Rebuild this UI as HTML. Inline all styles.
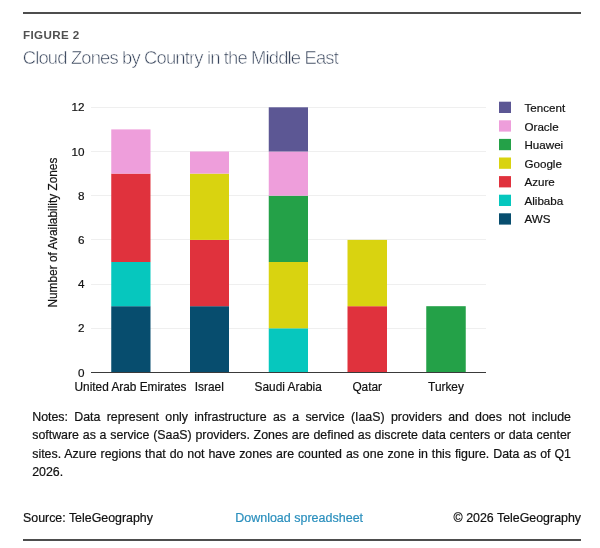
<!DOCTYPE html>
<html><head><meta charset="utf-8">
<style>
html,body{margin:0;padding:0;background:#fff;}
body{width:600px;height:548px;position:relative;overflow:hidden;font-family:"Liberation Sans",sans-serif;color:#111;}
.abs{position:absolute;white-space:nowrap;}
.rule{position:absolute;left:22.5px;width:558.5px;height:2px;background:#4d4d4d;}
#fig{left:22.9px;top:28.9px;font-size:11.6px;font-weight:bold;color:#505050;line-height:12px;letter-spacing:0.42px;}
#title{left:22.8px;top:45.5px;font-size:18.4px;color:#36435a;-webkit-text-stroke:0.55px #fff;line-height:24px;letter-spacing:-0.84px;}
#notes{position:absolute;left:32.2px;top:407.5px;width:538.8px;font-size:12.4px;-webkit-text-stroke:0.2px #111;line-height:18.5px;text-align:justify;color:#111;}
.foot{-webkit-text-stroke:0.2px;font-size:12.4px;line-height:14px;top:511px;color:#111;}
.j{text-align:justify;text-align-last:justify;white-space:nowrap;}
svg .xl text{font-size:11.85px;}
svg{position:absolute;left:0;top:0;}
svg text{font-family:"Liberation Sans",sans-serif;font-size:11.7px;fill:#111;stroke:#111;stroke-width:0.2px;}
</style></head><body>
<div class="rule" style="top:11.7px"></div>
<div class="abs" id="fig">FIGURE 2</div>
<div class="abs" id="title">Cloud Zones by Country in the Middle East</div>

<svg width="600" height="548" viewBox="0 0 600 548">
<g stroke="#efefef" stroke-width="1" shape-rendering="crispEdges">
<line x1="91" x2="485.5" y1="107.5" y2="107.5"/>
<line x1="91" x2="485.5" y1="151.5" y2="151.5"/>
<line x1="91" x2="485.5" y1="195.5" y2="195.5"/>
<line x1="91" x2="485.5" y1="239.5" y2="239.5"/>
<line x1="91" x2="485.5" y1="284.5" y2="284.5"/>
<line x1="91" x2="485.5" y1="328.5" y2="328.5"/>
</g>
<!-- bars: unit=22.1, zero=372.5 -->
<g>
<!-- UAE -->
<rect x="111.25" width="39.25" y="306.2" height="66.3" fill="#074d6e"/>
<rect x="111.25" width="39.25" y="262" height="44.2" fill="#06c7be"/>
<rect x="111.25" width="39.25" y="173.6" height="88.4" fill="#e0323d"/>
<rect x="111.25" width="39.25" y="129.4" height="44.2" fill="#ee9edb"/>
<!-- Israel -->
<rect x="190" width="39" y="306.2" height="66.3" fill="#074d6e"/>
<rect x="190" width="39" y="239.9" height="66.3" fill="#e0323d"/>
<rect x="190" width="39" y="173.6" height="66.3" fill="#d9d310"/>
<rect x="190" width="39" y="151.5" height="22.1" fill="#ee9edb"/>
<!-- Saudi -->
<rect x="268.75" width="39.25" y="328.3" height="44.2" fill="#06c7be"/>
<rect x="268.75" width="39.25" y="262" height="66.3" fill="#d9d310"/>
<rect x="268.75" width="39.25" y="195.7" height="66.3" fill="#24a148"/>
<rect x="268.75" width="39.25" y="151.5" height="44.2" fill="#ee9edb"/>
<rect x="268.75" width="39.25" y="107.3" height="44.2" fill="#5c5794"/>
<!-- Qatar -->
<rect x="347.5" width="39.5" y="306.2" height="66.3" fill="#e0323d"/>
<rect x="347.5" width="39.5" y="239.9" height="66.3" fill="#d9d310"/>
<!-- Turkey -->
<rect x="426.25" width="39.5" y="306.2" height="66.3" fill="#24a148"/>
</g>
<line x1="91" x2="485.5" y1="372.5" y2="372.5" stroke="#3a3a3a" stroke-width="1" shape-rendering="crispEdges"/>
<g text-anchor="end">
<text x="84.5" y="111.3">12</text>
<text x="84.5" y="155.5">10</text>
<text x="84.5" y="199.7">8</text>
<text x="84.5" y="244">6</text>
<text x="84.5" y="288.2">4</text>
<text x="84.5" y="332.4">2</text>
<text x="84.5" y="376.6">0</text>
</g>
<g text-anchor="middle" class="xl">
<text x="130.5" y="391">United Arab Emirates</text>
<text x="209.3" y="391">Israel</text>
<text x="288.2" y="391">Saudi Arabia</text>
<text x="367.2" y="391">Qatar</text>
<text x="446" y="391">Turkey</text>
</g>
<text transform="translate(56.9,232.6) rotate(-90)" text-anchor="middle" style="font-size:11.85px">Number of Availability Zones</text>
<g>
<rect x="499" y="101.70" width="12" height="11.3" fill="#5c5794"/>
<rect x="499" y="120.30" width="12" height="11.3" fill="#ee9edb"/>
<rect x="499" y="138.90" width="12" height="11.3" fill="#24a148"/>
<rect x="499" y="157.50" width="12" height="11.3" fill="#d9d310"/>
<rect x="499" y="176.10" width="12" height="11.3" fill="#e0323d"/>
<rect x="499" y="194.70" width="12" height="11.3" fill="#06c7be"/>
<rect x="499" y="213.30" width="12" height="11.3" fill="#074d6e"/>
</g>
<g>
<text x="524.5" y="112.00" style="font-size:11.6px">Tencent</text>
<text x="524.5" y="130.55" style="font-size:11.6px">Oracle</text>
<text x="524.5" y="149.10" style="font-size:11.6px">Huawei</text>
<text x="524.5" y="167.65" style="font-size:11.6px">Google</text>
<text x="524.5" y="186.20" style="font-size:11.6px">Azure</text>
<text x="524.5" y="204.75" style="font-size:11.6px">Alibaba</text>
<text x="524.5" y="223.30" style="font-size:11.6px">AWS</text>
</g>
</svg>

<div id="notes"><div class="j">Notes: Data represent only infrastructure as a service (IaaS) providers and does not include</div><div class="j">software as a service (SaaS) providers. Zones are defined as discrete data centers or data center</div><div class="j">sites. Azure regions that do not have zones are counted as one zone in this figure. Data as of Q1</div><div>2026.</div></div>

<div class="abs foot" style="left:23px">Source: TeleGeography</div>
<div class="abs foot" style="left:235.2px;font-size:12.5px;color:#2a8fbd">Download spreadsheet</div>
<div class="abs foot" style="right:19px">© 2026 TeleGeography</div>
<div class="rule" style="top:538.8px"></div>
</body></html>
